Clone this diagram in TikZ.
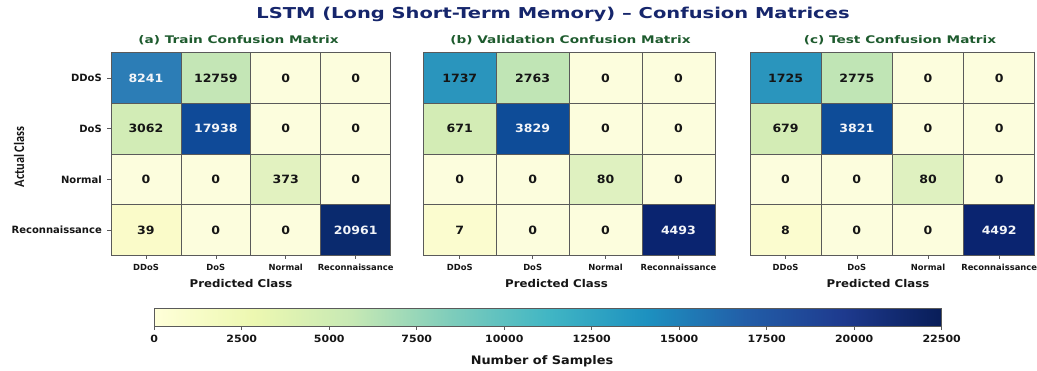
\documentclass[tikz,border=0pt]{standalone}
\usepackage{fontspec}
\setmainfont{DejaVu Sans}
\newfontfamily\widefont[FakeStretch=1.3]{DejaVu Sans}
\newfontfamily\midfont[FakeStretch=1.1]{DejaVu Sans}
\newfontfamily\narrowfont{Carlito}

% cell colours (YlGnBu family)
\definecolor{zc}{HTML}{FCFDDD}
\definecolor{tA}{HTML}{2C7DB6}
\definecolor{tB}{HTML}{C4E6B6}
\definecolor{tC}{HTML}{D2ECB6}
\definecolor{tD}{HTML}{0F4A98}
\definecolor{tE}{HTML}{E2F2C0}
\definecolor{tF}{HTML}{FAFBC9}
\definecolor{tG}{HTML}{0A2A6E}
\definecolor{vA}{HTML}{2A95BD}
\definecolor{vB}{HTML}{C0E5B5}
\definecolor{vC}{HTML}{D3ECB5}
\definecolor{vD}{HTML}{0E4C98}
\definecolor{vE}{HTML}{DFF1C0}
\definecolor{vF}{HTML}{FBFCCF}
\definecolor{vG}{HTML}{0A2470}
\definecolor{gridc}{HTML}{5A5A5A}
\definecolor{titlec}{HTML}{16266C}
\definecolor{subc}{HTML}{1E5B2E}
\definecolor{txtw}{HTML}{F2F4F8}
\definecolor{txtk}{HTML}{151515}

% colour bar stops
\definecolor{cb0}{HTML}{FFFFD9}
\definecolor{cb1}{HTML}{EDF8B1}
\definecolor{cb2}{HTML}{C7E9B4}
\definecolor{cb3}{HTML}{7FCDBB}
\definecolor{cb4}{HTML}{41B6C4}
\definecolor{cb5}{HTML}{1D91C0}
\definecolor{cb6}{HTML}{225EA8}
\definecolor{cb7}{HTML}{1E3A8E}
\definecolor{cb8}{HTML}{081D58}
\pgfdeclarehorizontalshading{ylgnbu}{100bp}{color(0bp)=(cb0); color(25bp)=(cb0);
  color(31.25bp)=(cb1); color(37.5bp)=(cb2); color(43.75bp)=(cb3); color(50bp)=(cb4);
  color(56.25bp)=(cb5); color(62.5bp)=(cb6); color(68.75bp)=(cb7); color(75bp)=(cb8);
  color(100bp)=(cb8)}

\tikzset{
  cell/.style={draw=gridc, line width=0.7pt, inner sep=0pt,
    minimum height=50.7pt, font=\midfont\fontsize{11.4}{13}\selectfont\bfseries},
  ylab/.style={anchor=east, inner sep=0pt, font=\fontsize{10}{11}\selectfont\bfseries, text=txtk},
  xlab/.style={inner sep=0pt, font=\fontsize{8.4}{10}\selectfont\bfseries, text=txtk},
  axlab/.style={inner sep=0pt, font=\midfont\fontsize{10.7}{12}\selectfont\bfseries, text=txtk},
  subtitle/.style={inner sep=0pt, font=\widefont\fontsize{10.5}{12}\selectfont\bfseries, text=subc},
  tickmark/.style={draw=gridc, line width=0.6pt},
}

% one confusion matrix: #1 name prefix, #2 left edge, #3 column width, #4 cells
\newcommand\cmgrid[4]{%
  \foreach \r/\c/\v/\f/\t in {#4} {
    \node[cell, fill=\f, text=\t, minimum width=#3pt]
      (#1-\r-\c) at ({#2+(\c-0.5)*#3}, {52.7+(\r-0.5)*50.7}) {\v};
  }
  \foreach \c/\lab in {1/DDoS,2/DoS,3/Normal,4/Reconnaissance} {
    \draw[tickmark] ({#2+(\c-0.5)*#3},255.4) -- ({#2+(\c-0.5)*#3},259);
    \node[xlab] (#1-x\c) at ({#2+(\c-0.5)*#3},267) {\lab};
  }
}

\begin{document}
\begin{tikzpicture}[x=1pt,y=-1pt]
\useasboundingbox[fill=white] (0,0) rectangle (1037,371);

\node[inner sep=0pt, text=titlec, font=\widefont\fontsize{15}{18}\selectfont\bfseries]
  (title) at (553,14.5) {LSTM (Long Short-Term Memory) – Confusion Matrices};

% train
\node[subtitle] (sub-a) at (238.5,40.5) {(a) Train Confusion Matrix};
\cmgrid{tr}{111}{69.9}{1/1/8241/tA/txtw, 1/2/12759/tB/txtk, 1/3/0/zc/txtk, 1/4/0/zc/txtk,
  2/1/3062/tC/txtk, 2/2/17938/tD/txtw, 2/3/0/zc/txtk, 2/4/0/zc/txtk,
  3/1/0/zc/txtk, 3/2/0/zc/txtk, 3/3/373/tE/txtk, 3/4/0/zc/txtk,
  4/1/39/tF/txtk, 4/2/0/zc/txtk, 4/3/0/zc/txtk, 4/4/20961/tG/txtw}
\foreach \r/\lab in {1/DDoS,2/DoS,3/Normal,4/Reconnaissance} {
  \draw[tickmark] (107,{52.7+(\r-0.5)*50.7}) -- (111,{52.7+(\r-0.5)*50.7});
  \node[ylab] (tr-y\r) at (102,{52.7+(\r-0.5)*50.7}) {\lab};
}
\node[axlab] (tr-xl) at (241,283.5) {Predicted Class};
\node[inner sep=0pt, rotate=90, text=txtk] (tr-yl) at (19,157)
  {\scalebox{0.85}[1]{\narrowfont\fontsize{14.5}{16}\selectfont\bfseries Actual Class}};

% validation
\node[subtitle] (sub-b) at (570.5,40.5) {(b) Validation Confusion Matrix};
\cmgrid{va}{423.3}{72.9}{1/1/1737/vA/txtk, 1/2/2763/vB/txtk, 1/3/0/zc/txtk, 1/4/0/zc/txtk,
  2/1/671/vC/txtk, 2/2/3829/vD/txtw, 2/3/0/zc/txtk, 2/4/0/zc/txtk,
  3/1/0/zc/txtk, 3/2/0/zc/txtk, 3/3/80/vE/txtk, 3/4/0/zc/txtk,
  4/1/7/vF/txtk, 4/2/0/zc/txtk, 4/3/0/zc/txtk, 4/4/4493/vG/txtw}
\node[axlab] (va-xl) at (556.5,283.5) {Predicted Class};

% test
\node[subtitle] (sub-c) at (900,40.5) {(c) Test Confusion Matrix};
\cmgrid{te}{750}{71.2}{1/1/1725/vA/txtk, 1/2/2775/vB/txtk, 1/3/0/zc/txtk, 1/4/0/zc/txtk,
  2/1/679/vC/txtk, 2/2/3821/vD/txtw, 2/3/0/zc/txtk, 2/4/0/zc/txtk,
  3/1/0/zc/txtk, 3/2/0/zc/txtk, 3/3/80/vE/txtk, 3/4/0/zc/txtk,
  4/1/8/vF/txtk, 4/2/0/zc/txtk, 4/3/0/zc/txtk, 4/4/4492/vG/txtw}
\node[axlab] (te-xl) at (878,283.5) {Predicted Class};

% colour bar
\shade[shading=ylgnbu, draw=gridc, line width=0.6pt] (154.3,308.3) rectangle (941.7,326.7);
\foreach \k/\val in {0/0,1/2500,2/5000,3/7500,4/10000,5/12500,6/15000,7/17500,8/20000,9/22500} {
  \draw[tickmark] ({154.3+\k*87.49},326.7) -- ({154.3+\k*87.49},330);
  \node[inner sep=0pt, font=\midfont\fontsize{10}{12}\selectfont\bfseries, text=txtk]
    (cb-\k) at ({154.3+\k*87.49},338.5) {\val};
}
\node[inner sep=0pt, font=\midfont\fontsize{11.7}{13}\selectfont\bfseries, text=txtk]
  (cb-label) at (542,361) {Number of Samples};
\end{tikzpicture}
\end{document}
